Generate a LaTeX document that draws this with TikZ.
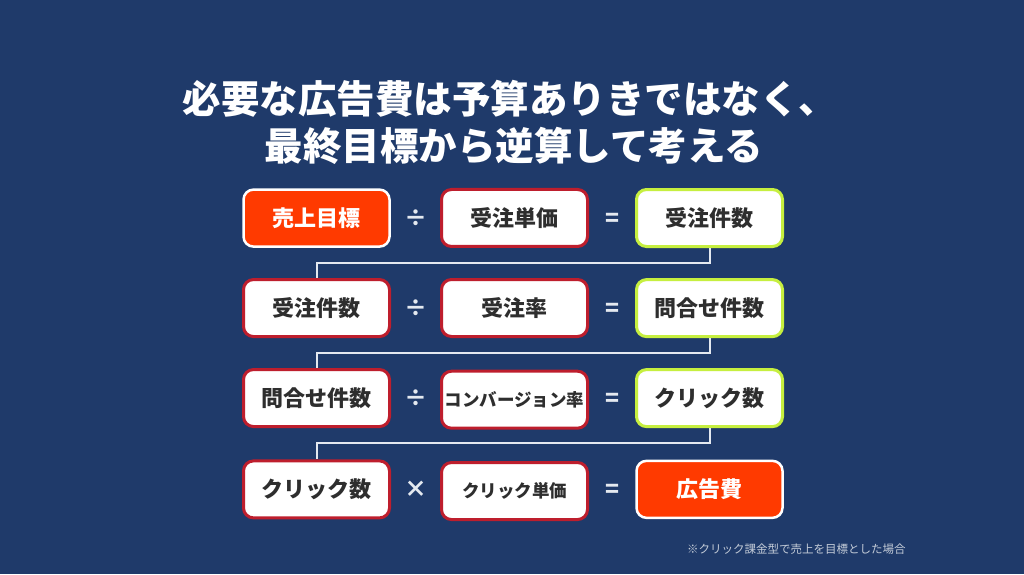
\documentclass[tikz,border=0pt]{standalone}
\usepackage{fontspec}
\setmainfont{Noto Sans CJK JP}
\usetikzlibrary{matrix, positioning}
\definecolor{navy}{HTML}{1F3A6A}
\definecolor{hot}{HTML}{FF3A00}
\definecolor{boxred}{HTML}{BE1E2D}
\definecolor{lime}{HTML}{C6EF3F}
\definecolor{ink}{HTML}{2E2E2E}
\definecolor{pale}{HTML}{E4E9F0}
\definecolor{notegray}{HTML}{C4CCD8}
\tikzset{cell/.style={draw=boxred, fill=white, line width=3pt, rounded corners=10pt,
    minimum width=146pt, minimum height=57pt, inner sep=0pt, text=ink,
    font=\fontsize{22pt}{22pt}\selectfont\bfseries},
  goal/.style={fill=hot, draw=white, line width=2.5pt, text=white},
  result/.style={draw=lime},
  small/.style={font=\fontsize{17.5pt}{17.5pt}\selectfont\bfseries},
  op/.style={draw=none, fill=none, minimum width=20pt, outer sep=0pt, text=pale,
    font=\fontsize{23pt}{23pt}\selectfont\bfseries},
  link/.style={draw=pale, line width=2pt},
  headline/.style={text=white, anchor=base, inner sep=0pt,
    font=\fontsize{38.5pt}{38.5pt}\selectfont\bfseries}}

\begin{document}
\begin{tikzpicture}[x=1pt, y=-1pt]
    \fill[navy] (0,0) rectangle (1024,574);
    \useasboundingbox (0,0) rectangle (1024,574);

    \node[headline] (head-1) at (510,113.6) {必要な広告費は予算ありきではなく、};
    \node[headline] (head-2) at (514,160.6) {最終目標から逆算して考える};

    \matrix (calc) [%
      matrix of nodes,
      nodes={cell},
      column sep=13pt,
      row sep=29.7pt,
      column 2/.style={nodes={op}},
      column 4/.style={nodes={op}}
      ] at (513,354.5)
      {
        |[goal]| 売上目標 & ÷ & 受注単価 & = & |[result]| 受注件数
        \\
        受注件数 & ÷ & 受注率 & = & |[result]| 問合せ件数
        \\
        問合せ件数 & ÷ & |[small]| コンバージョン率 & = & |[result]| クリック数
        \\
        クリック数 & × & |[small]| クリック単価 & = & |[goal]| 広告費
        \\
      };

    \draw[link] (calc-1-5.south) -- ++(0,14.5) -| (calc-2-1.north);
    \draw[link] (calc-2-5.south) -- ++(0,14.5) -| (calc-3-1.north);
    \draw[link] (calc-3-5.south) -- ++(0,14.5) -| (calc-4-1.north);

    \node[text=notegray, anchor=west, inner sep=0pt,
      font=\fontsize{11.5pt}{11.5pt}\selectfont] (note) at (687,549)
      {※クリック課金型で売上を目標とした場合};
\end{tikzpicture}
\end{document}
